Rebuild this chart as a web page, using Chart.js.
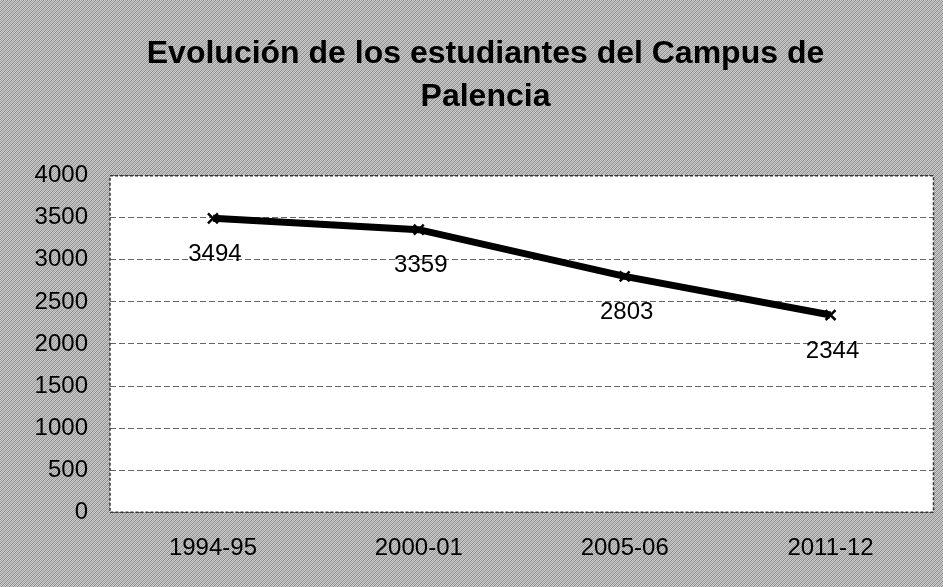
<!DOCTYPE html>
<html>
<head>
<meta charset="utf-8">
<script src="https://cdn.jsdelivr.net/npm/chart.js@4.4.0/dist/chart.umd.min.js"></script>
<style>
  html, body { margin: 0; padding: 0; background: #a8a8a8; }
  #wrap { width: 943px; height: 587px; }
</style>
</head>
<body>
<div id="wrap"><canvas id="chart" width="943" height="587"></canvas></div>
<script>
// data
const cursos = ['1994-95', '2000-01', '2005-06', '2011-12'];
const estudiantes = [3494, 3359, 2803, 2344];
const yTicks = [0, 500, 1000, 1500, 2000, 2500, 3000, 3500, 4000];

const FONT = '"Liberation Sans", Arial, sans-serif';

// grey scanned-looking backdrop
function makeTexture(ctx) {
  const c = document.createElement('canvas');
  c.width = 4; c.height = 4;
  const g = c.getContext('2d');
  g.fillStyle = '#cacaca';
  g.fillRect(0, 0, 4, 4);
  g.fillStyle = '#8a8a8a';
  for (let i = 0; i < 4; i++) g.fillRect((3 - i + 4) % 4, i, 1, 1);
  g.fillStyle = '#a8a8a8';
  for (let i = 0; i < 4; i++) g.fillRect((5 - i) % 4, i, 1, 1);
  return ctx.createPattern(c, 'repeat');
}

const backdrop = {
  id: 'backdrop',
  beforeDraw(chart) {
    const { ctx, chartArea: a } = chart;
    ctx.save();
    ctx.fillStyle = makeTexture(ctx);
    ctx.fillRect(0, 0, chart.width, chart.height);
    ctx.fillStyle = '#ffffff';
    ctx.fillRect(a.left, a.top, a.right - a.left, a.bottom - a.top);
    ctx.restore();
  },
  afterDatasetsDraw(chart) {
    const { ctx, chartArea: a } = chart;
    ctx.save();
    ctx.strokeStyle = '#333';
    ctx.lineWidth = 1.5;
    ctx.setLineDash([3, 2]);
    ctx.strokeRect(a.left, a.top, a.right - a.left, a.bottom - a.top);
    ctx.restore();
  }
};

// value labels under each point
const valueLabels = {
  id: 'valueLabels',
  afterDatasetsDraw(chart) {
    const { ctx } = chart;
    const meta = chart.getDatasetMeta(0);
    ctx.save();
    ctx.font = '24px ' + FONT;
    ctx.fillStyle = '#000';
    ctx.textAlign = 'center';
    ctx.textBaseline = 'middle';
    meta.data.forEach((pt, i) => {
      ctx.fillText(String(estudiantes[i]), pt.x + 2, pt.y + 36);
    });
    ctx.restore();
  }
};

new Chart(document.getElementById('chart'), {
  type: 'line',
  data: {
    labels: cursos,
    datasets: [{
      data: estudiantes,
      borderColor: '#000',
      backgroundColor: '#000',
      borderWidth: 7,
      tension: 0,
      pointStyle: 'crossRot',
      pointRadius: 7,
      pointBorderWidth: 2.5,
      pointBorderColor: '#000'
    }]
  },
  plugins: [backdrop, valueLabels],
  options: {
    responsive: false,
    animation: false,
    layout: { padding: { left: 33, right: 5, top: 0, bottom: 2 } },
    plugins: {
      legend: { display: false },
      tooltip: { enabled: false },
      title: {
        display: true,
        text: ['Evolución de los estudiantes del Campus de', 'Palencia'],
        color: '#000',
        font: { family: FONT, size: 32, weight: 'bold', lineHeight: 1.34 },
        padding: { top: 33, bottom: 57 }
      }
    },
    scales: {
      y: {
        min: 0,
        max: 4000,
        afterBuildTicks(axis) { axis.ticks = yTicks.map(v => ({ value: v })); },
        afterFit(axis) { axis.width = 77; },
        ticks: {
          color: '#000',
          font: { family: FONT, size: 24 },
          padding: 22,
          callback: v => String(v)
        },
        grid: { color: '#666', lineWidth: 1, drawTicks: false },
        border: { display: false, dash: [6, 3] }
      },
      x: {
        offset: true,
        ticks: { color: '#000', font: { family: FONT, size: 24 }, padding: 22 },
        grid: { display: false, drawTicks: false },
        border: { display: false }
      }
    }
  }
});
</script>
</body>
</html>
